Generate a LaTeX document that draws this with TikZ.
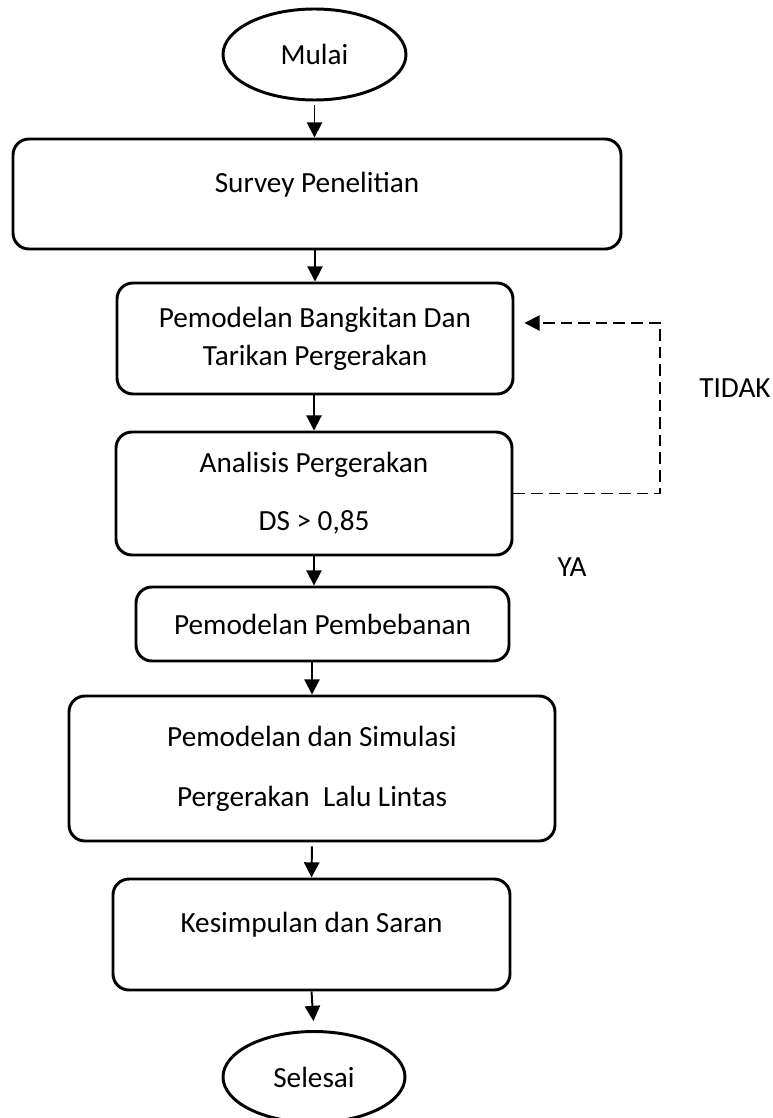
\documentclass[tikz,border=0pt]{standalone}
\usepackage{fontspec}
\setmainfont{Carlito}
\usetikzlibrary{shapes.geometric,arrows.meta}

\begin{document}
\begin{tikzpicture}[
	font=\fontsize{20.8}{27}\selectfont,
	terminal/.style={ellipse, draw, line width=2.1pt, inner sep=0pt, minimum width=4.575cm, minimum height=2.275cm},
	proses/.style={rectangle, rounded corners=0.4cm, draw, line width=2.1pt, align=center, inner sep=0pt},
	panah/.style={-{Triangle[length=0.38cm,width=0.38cm]}, line width=1.4pt},
	balik/.style={panah, dash pattern=on 0.29cm off 0.15cm},
	]
	\useasboundingbox (0,0) rectangle (19.325,-27.95);
	% Mulai
	\node[terminal] (mulai) at (7.8625,-1.3625) {Mulai};
	% Kotak proses
	\node[proses, minimum width=15.2cm, minimum height=2.75cm, text depth=17pt] (survey) at (7.925,-4.85) {Survey Penelitian};
	\node[proses, minimum width=9.9cm, minimum height=2.775cm] (bangkitan) at (7.875,-8.4625) {Pemodelan Bangkitan Dan\\Tarikan Pergerakan};
	\node[proses, minimum width=9.9cm, minimum height=3.075cm] (analisis) at (7.85,-12.3375) {Analisis Pergerakan\\[0.5cm]DS > 0,85};
	\node[proses, minimum width=9.325cm, minimum height=1.85cm] (pembebanan) at (8.0625,-15.6) {Pemodelan Pembebanan};
	\node[proses, minimum width=12.15cm, minimum height=3.625cm] (simulasi) at (7.8,-19.2125) {Pemodelan dan Simulasi\\[0.55cm]Pergerakan\ \ Lalu Lintas};
	\node[proses, minimum width=9.925cm, minimum height=2.775cm, text depth=17pt] (kesimpulan) at (7.7875,-23.3625) {Kesimpulan dan Saran};
	% Selesai
	\node[terminal, minimum width=4.55cm] (selesai) at (7.85,-26.925) {Selesai};
	% Panah turun
	\draw[panah, shorten <=0.1cm] (mulai.south) -- (mulai.south |- survey.north);
	\draw[panah] (bangkitan.north |- survey.south) -- (bangkitan.north);
	\draw[panah] (analisis.north |- bangkitan.south) -- (analisis.north);
	\draw[panah] (analisis.south) -- (analisis.south |- pembebanan.north);
	\draw[panah] (simulasi.north |- pembebanan.south) -- (simulasi.north);
	\draw[panah, shorten <=0.1cm] (simulasi.south) -- (kesimpulan.north);
	\draw[panah, shorten >=0.225cm] (kesimpulan.south) -- (selesai.north);
	% Umpan balik TIDAK
	\coordinate (pojok) at (16.5,-8.075);
	\draw[balik, shorten >=0.25cm] (analisis.east) -| (pojok) -- (pojok -| bangkitan.east);
	\node (tidak) at (18.375,-9.7) {TIDAK};
	\node (ya) at (14.3,-14.175) {YA};
\end{tikzpicture}
\end{document}
